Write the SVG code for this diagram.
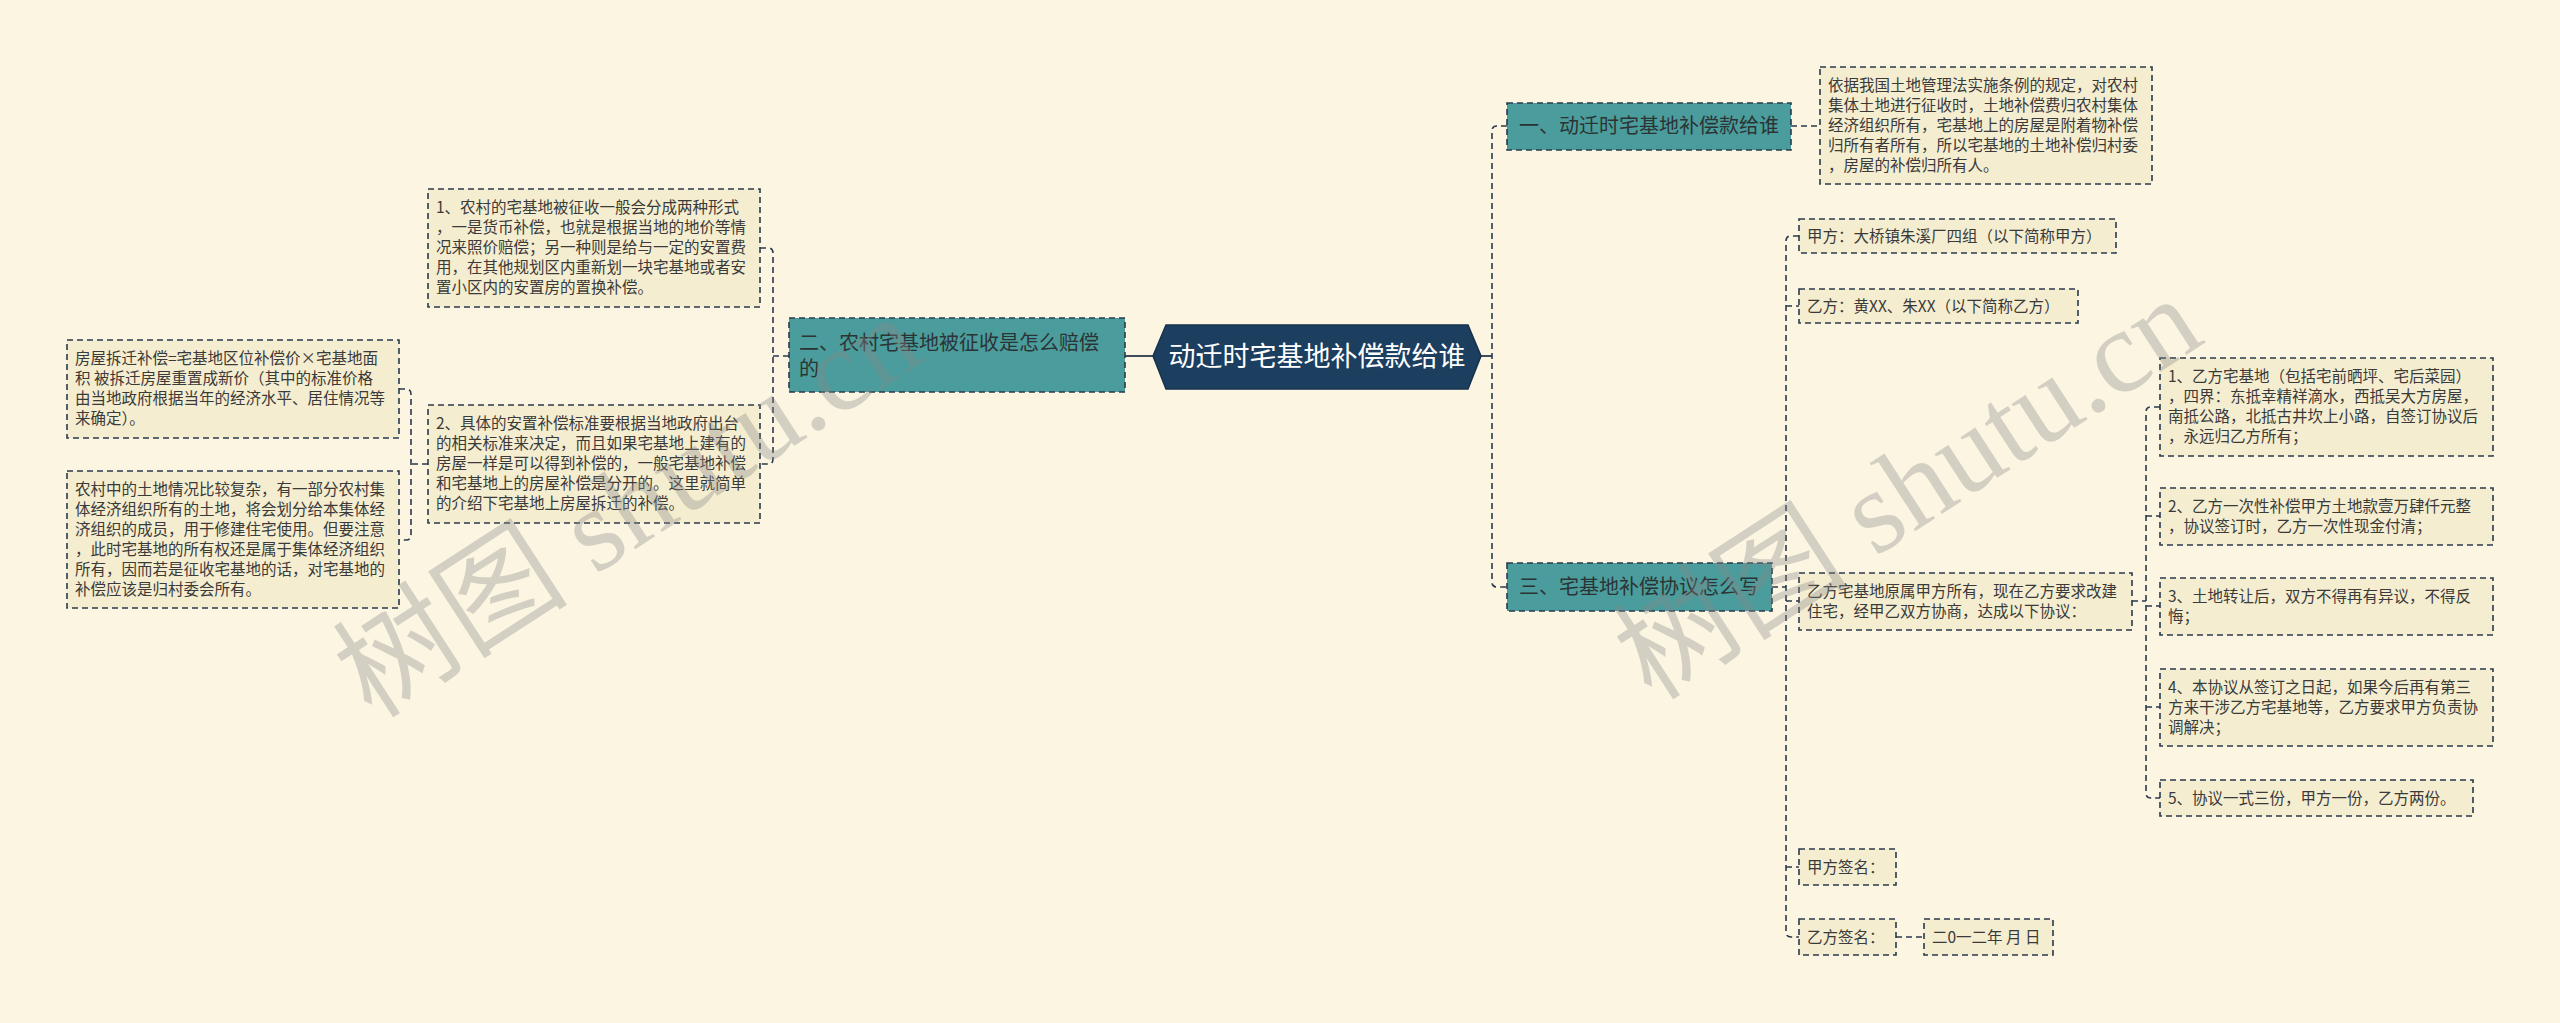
<svg xmlns="http://www.w3.org/2000/svg" width="2560" height="1023" viewBox="0 0 2560 1023">
<style>
.bg{fill:#FBF5E2}
.box{fill:#F5EDCF;stroke:#2A3A4C;stroke-width:1.6;stroke-dasharray:6 4}
.br{fill:#4B9C9C;stroke:#2A3A4C;stroke-width:1.6;stroke-dasharray:6 4}
.t{font-family:"Noto Sans CJK SC","Noto Sans",sans-serif;font-size:15.5px;fill:#3A3A3A}
.bt{font-family:"Noto Sans CJK SC","Noto Sans",sans-serif;font-size:20px;fill:#2B3434}
.ct{font-family:"Noto Sans CJK SC","Noto Sans",sans-serif;font-size:27px;fill:#FFFFFF}
.c{fill:none;stroke:#2A3A4C;stroke-width:1.6;stroke-dasharray:6 4}
.s{fill:none;stroke:#2A3A4C;stroke-width:1.8}
.wm{font-family:"Liberation Serif","Noto Sans CJK SC",serif;font-size:118px;fill:#8A8A8A;fill-opacity:0.35}
</style>
<rect class="bg" x="0" y="0" width="2560" height="1023"/>
<g id="connectors">
<path class="s" d="M1153,356 H1125"/>
<path class="s" d="M1481,356 H1492"/>
<path class="c" d="M1507,126 H1497 Q1492,126 1492,131 V582 Q1492,587 1497,587 H1507"/>
<path class="c" d="M1791,126 H1820"/>
<path class="c" d="M1772,587 H1786"/>
<path class="c" d="M1799,236 H1791 Q1786,236 1786,241 V932 Q1786,937 1791,937 H1799"/>
<path class="c" d="M1786,306 H1799 M1786,601 H1799 M1786,867 H1799"/>
<path class="c" d="M1896,937 H1924"/>
<path class="c" d="M2132,601 H2146"/>
<path class="c" d="M2160,407 H2151 Q2146,407 2146,412 V793 Q2146,798 2151,798 H2160"/>
<path class="c" d="M2146,516 H2160 M2146,606 H2160 M2146,707 H2160"/>
<path class="c" d="M789,356 H773"/>
<path class="c" d="M760,248 H768 Q773,248 773,253 V459 Q773,464 768,464 H760"/>
<path class="c" d="M428,464 H411"/>
<path class="c" d="M399,389 H406 Q411,389 411,394 V535 Q411,540 406,540 H399"/>
</g>
<g id="center">
<polygon points="1153,356 1166,325 1468,325 1481,356 1468,389 1166,389" fill="#1C3E5F" stroke="#16324D" stroke-width="1.5"/>
<text class="ct" x="1317" y="366" text-anchor="middle">动迁时宅基地补偿款给谁</text>
</g>
<g id="branch1">
<rect class="br" x="1507" y="103" width="284" height="47"/>
<text class="bt" x="1519" y="133">一、动迁时宅基地补偿款给谁</text>
</g>
<g id="branch2">
<rect class="br" x="789" y="318" width="336" height="74"/>
<text class="bt" x="799" y="350">二、农村宅基地被征收是怎么赔偿</text>
<text class="bt" x="799" y="376">的</text>
</g>
<g id="branch3">
<rect class="br" x="1507" y="563" width="265" height="48"/>
<text class="bt" x="1519" y="594">三、宅基地补偿协议怎么写</text>
</g>
<g id="n-d">
<rect class="box" x="1820" y="67" width="332" height="117"/>
<text class="t" x="1828" y="91">依据我国土地管理法实施条例的规定，对农村</text>
<text class="t" x="1828" y="111">集体土地进行征收时，土地补偿费归农村集体</text>
<text class="t" x="1828" y="131">经济组织所有，宅基地上的房屋是附着物补偿</text>
<text class="t" x="1828" y="151">归所有者所有，所以宅基地的土地补偿归村委</text>
<text class="t" x="1828" y="171">，房屋的补偿归所有人。</text>
</g>
<g id="n-jia">
<rect class="box" x="1799" y="219" width="317" height="34"/>
<text class="t" x="1807" y="242">甲方：大桥镇朱溪厂四组（以下简称甲方）</text>
</g>
<g id="n-yi">
<rect class="box" x="1799" y="289" width="279" height="34"/>
<text class="t" x="1807" y="312">乙方：黄XX、朱XX（以下简称乙方）</text>
</g>
<g id="n-g">
<rect class="box" x="1799" y="573" width="333" height="57"/>
<text class="t" x="1807" y="597">乙方宅基地原属甲方所有，现在乙方要求改建</text>
<text class="t" x="1807" y="617">住宅，经甲乙双方协商，达成以下协议：</text>
</g>
<g id="n-jiasign">
<rect class="box" x="1799" y="849" width="97" height="36"/>
<text class="t" x="1807" y="873">甲方签名：</text>
</g>
<g id="n-yisign">
<rect class="box" x="1799" y="919" width="97" height="36"/>
<text class="t" x="1807" y="943">乙方签名：</text>
</g>
<g id="n-date">
<rect class="box" x="1924" y="919" width="129" height="36"/>
<text class="t" x="1932" y="943">二0一二年 月 日</text>
</g>
<g id="n-k1">
<rect class="box" x="2160" y="358" width="333" height="98"/>
<text class="t" x="2168" y="382">1、乙方宅基地（包括宅前晒坪、宅后菜园）</text>
<text class="t" x="2168" y="402">，四界：东抵幸精祥滴水，西抵吴大方房屋，</text>
<text class="t" x="2168" y="422">南抵公路，北抵古井坎上小路，自签订协议后</text>
<text class="t" x="2168" y="442">，永远归乙方所有；</text>
</g>
<g id="n-k2">
<rect class="box" x="2160" y="488" width="333" height="57"/>
<text class="t" x="2168" y="512">2、乙方一次性补偿甲方土地款壹万肆仟元整</text>
<text class="t" x="2168" y="532">，协议签订时，乙方一次性现金付清；</text>
</g>
<g id="n-k3">
<rect class="box" x="2160" y="578" width="333" height="57"/>
<text class="t" x="2168" y="602">3、土地转让后，双方不得再有异议，不得反</text>
<text class="t" x="2168" y="622">悔；</text>
</g>
<g id="n-k4">
<rect class="box" x="2160" y="669" width="333" height="77"/>
<text class="t" x="2168" y="693">4、本协议从签订之日起，如果今后再有第三</text>
<text class="t" x="2168" y="713">方来干涉乙方宅基地等，乙方要求甲方负责协</text>
<text class="t" x="2168" y="733">调解决；</text>
</g>
<g id="n-k5">
<rect class="box" x="2160" y="780" width="313" height="36"/>
<text class="t" x="2168" y="804">5、协议一式三份，甲方一份，乙方两份。</text>
</g>
<g id="n-c1">
<rect class="box" x="428" y="189" width="332" height="118"/>
<text class="t" x="436" y="213">1、农村的宅基地被征收一般会分成两种形式</text>
<text class="t" x="436" y="233">，一是货币补偿，也就是根据当地的地价等情</text>
<text class="t" x="436" y="253">况来照价赔偿；另一种则是给与一定的安置费</text>
<text class="t" x="436" y="273">用，在其他规划区内重新划一块宅基地或者安</text>
<text class="t" x="436" y="293">置小区内的安置房的置换补偿。</text>
</g>
<g id="n-c2">
<rect class="box" x="428" y="405" width="332" height="118"/>
<text class="t" x="436" y="429">2、具体的安置补偿标准要根据当地政府出台</text>
<text class="t" x="436" y="449">的相关标准来决定，而且如果宅基地上建有的</text>
<text class="t" x="436" y="469">房屋一样是可以得到补偿的，一般宅基地补偿</text>
<text class="t" x="436" y="489">和宅基地上的房屋补偿是分开的。这里就简单</text>
<text class="t" x="436" y="509">的介绍下宅基地上房屋拆迁的补偿。</text>
</g>
<g id="n-a">
<rect class="box" x="67" y="340" width="332" height="98"/>
<text class="t" x="75" y="364">房屋拆迁补偿=宅基地区位补偿价×宅基地面</text>
<text class="t" x="75" y="384">积 被拆迁房屋重置成新价（其中的标准价格</text>
<text class="t" x="75" y="404">由当地政府根据当年的经济水平、居住情况等</text>
<text class="t" x="75" y="424">来确定）。</text>
</g>
<g id="n-b">
<rect class="box" x="67" y="471" width="332" height="137"/>
<text class="t" x="75" y="495">农村中的土地情况比较复杂，有一部分农村集</text>
<text class="t" x="75" y="515">体经济组织所有的土地，将会划分给本集体经</text>
<text class="t" x="75" y="535">济组织的成员，用于修建住宅使用。但要注意</text>
<text class="t" x="75" y="555">，此时宅基地的所有权还是属于集体经济组织</text>
<text class="t" x="75" y="575">所有，因而若是征收宅基地的话，对宅基地的</text>
<text class="t" x="75" y="595">补偿应该是归村委会所有。</text>
</g>
<g id="watermark">
<text class="wm" transform="translate(372,720) rotate(-33)">树图 shutu.cn</text>
<text class="wm" transform="translate(1652,702) rotate(-33)">树图 shutu.cn</text>
</g>
</svg>
